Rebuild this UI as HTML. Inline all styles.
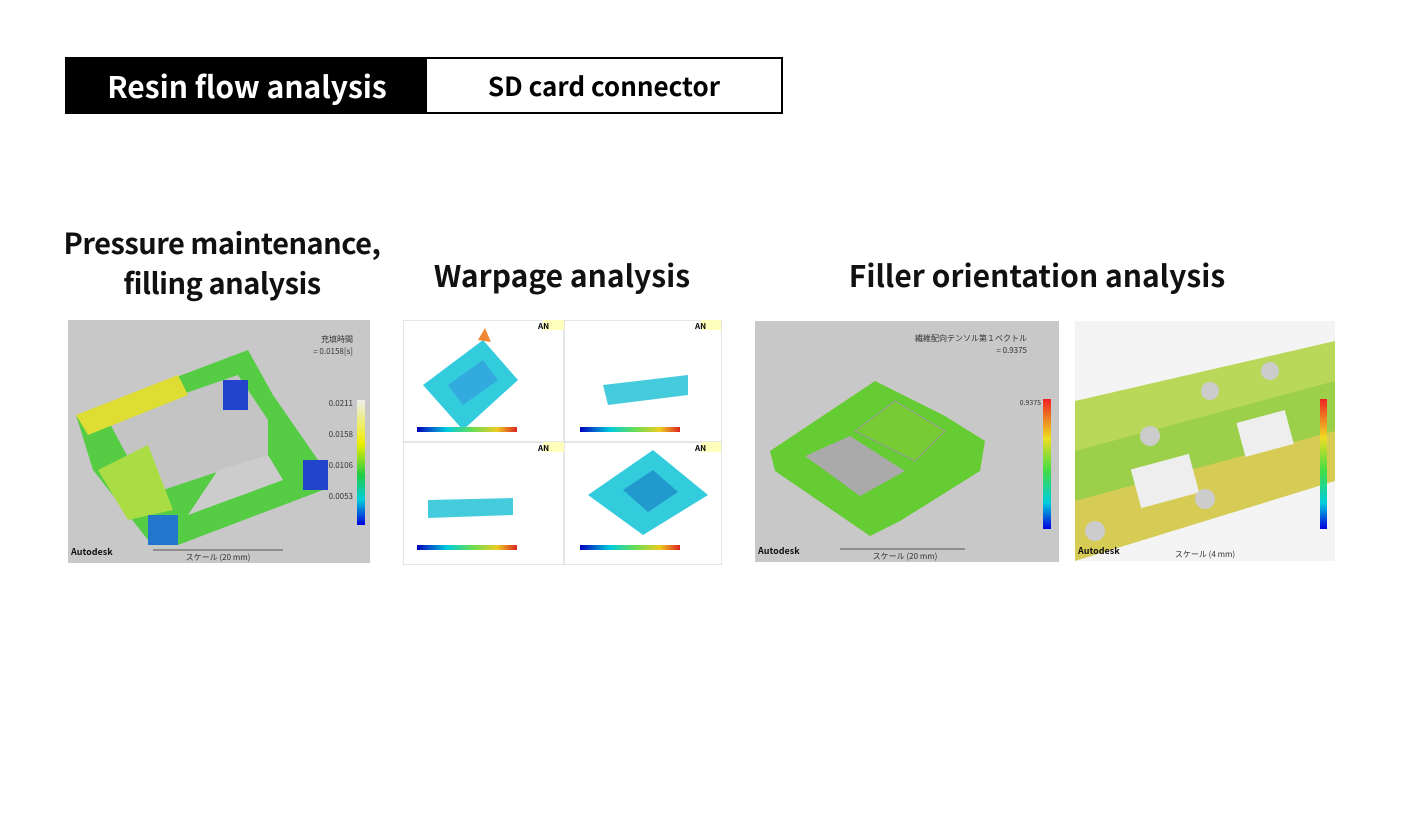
<!DOCTYPE html>
<html><head><meta charset="utf-8"><style>
body{margin:0;width:1401px;height:822px;background:#fff;position:relative;overflow:hidden;font-family:"Noto Sans CJK JP","Liberation Sans",sans-serif}
.a{position:absolute}
.t{position:absolute;font-weight:bold;color:#111;text-align:center;white-space:nowrap;letter-spacing:-0.5px}
</style></head><body>
<div class="a" style="left:65px;top:57px;width:360px;height:57px;background:#000;color:#fff;font-weight:bold;font-size:30px;line-height:57px;text-align:center;padding-left:4px;box-sizing:border-box">Resin flow analysis</div>
<div class="a" style="left:425px;top:57px;width:358px;height:57px;border:2px solid #000;box-sizing:border-box;font-weight:bold;font-size:26px;line-height:53px;text-align:center">SD card connector</div>

<div class="t" style="left:40px;width:364px;top:222px;font-size:29px;line-height:40px">Pressure maintenance,<br>filling analysis</div>
<div class="t" style="left:400px;width:324px;top:254px;font-size:30px;line-height:40px;letter-spacing:0">Warpage analysis</div>
<div class="t" style="left:780px;width:514px;top:254px;font-size:30px;line-height:40px;letter-spacing:0">Filler orientation analysis</div>

<!-- image 1 -->
<svg class="a" style="left:68px;top:320px" width="302" height="243" viewBox="0 0 302 243">
<defs><linearGradient id="g1" x1="0" y1="0" x2="0" y2="1"><stop offset="0" stop-color="#eee"/><stop offset=".35" stop-color="#ee0"/><stop offset=".6" stop-color="#2c4"/><stop offset=".8" stop-color="#0cd"/><stop offset="1" stop-color="#00d"/></linearGradient></defs>
<rect width="302" height="243" fill="#c8c8c8"/>
<polygon points="8,95 180,30 205,75 250,140 255,170 110,225 80,220 25,150" fill="#5c4"/>
<polygon points="40,100 170,55 200,100 200,135 80,175" fill="#c4c4c4"/>
<polygon points="150,150 200,135 215,160 120,195" fill="#ccc"/>
<polygon points="8,95 110,55 120,75 20,115" fill="#dd3"/>
<polygon points="30,150 80,125 105,190 60,200" fill="#ad4"/>
<rect x="155" y="60" width="25" height="30" fill="#24c"/>
<rect x="80" y="195" width="30" height="30" fill="#27c"/>
<rect x="235" y="140" width="25" height="30" fill="#24c"/>
<text x="285" y="22" font-size="8" text-anchor="end" fill="#333">充填時間</text>
<text x="285" y="34" font-size="8" text-anchor="end" fill="#333">= 0.0158[s]</text>
<rect x="289" y="80" width="8" height="125" fill="url(#g1)"/>
<text x="285" y="86" font-size="8" text-anchor="end" fill="#333">0.0211</text>
<text x="285" y="117" font-size="8" text-anchor="end" fill="#333">0.0158</text>
<text x="285" y="148" font-size="8" text-anchor="end" fill="#333">0.0106</text>
<text x="285" y="179" font-size="8" text-anchor="end" fill="#333">0.0053</text>
<text x="3" y="235" font-size="9" font-weight="bold" fill="#111">Autodesk</text>
<line x1="85" y1="230" x2="215" y2="230" stroke="#555"/>
<text x="150" y="240" font-size="8" text-anchor="middle" fill="#333">スケール (20 mm)</text>
</svg>

<!-- image 2 -->
<svg class="a" style="left:403px;top:320px" width="319" height="245" viewBox="0 0 319 245">
<defs><linearGradient id="g2" x1="0" x2="1"><stop offset="0" stop-color="#00b"/><stop offset=".3" stop-color="#0cd"/><stop offset=".55" stop-color="#6d5"/><stop offset=".8" stop-color="#ec2"/><stop offset="1" stop-color="#d22"/></linearGradient></defs>
<rect width="319" height="245" fill="#fff" stroke="#ccc"/>
<line x1="161" y1="0" x2="161" y2="245" stroke="#ccc"/><line x1="0" y1="122" x2="319" y2="122" stroke="#ccc"/>
<polygon points="20,65 80,20 115,60 60,110" fill="#3cd"/>
<polygon points="45,65 80,40 95,60 60,85" fill="#3ad"/>
<polygon points="75,20 82,8 88,22" fill="#e83"/>
<polygon points="200,65 285,55 285,75 205,85" fill="#4cd"/>
<polygon points="25,180 110,178 110,195 25,198" fill="#4cd"/>
<polygon points="185,175 250,130 305,175 240,215" fill="#3cd"/>
<polygon points="220,170 250,150 275,172 245,192" fill="#29c"/>
<rect x="14" y="107" width="100" height="5" fill="url(#g2)"/>
<rect x="177" y="107" width="100" height="5" fill="url(#g2)"/>
<rect x="14" y="225" width="100" height="5" fill="url(#g2)"/>
<rect x="177" y="225" width="100" height="5" fill="url(#g2)"/>
<rect x="140" y="0" width="21" height="10" fill="#ffb"/><rect x="298" y="0" width="20" height="10" fill="#ffb"/>
<rect x="140" y="122" width="21" height="10" fill="#ffb"/><rect x="298" y="122" width="20" height="10" fill="#ffb"/>
<text x="135" y="9" font-size="8" font-weight="bold">AN</text><text x="292" y="9" font-size="8" font-weight="bold">AN</text>
<text x="135" y="131" font-size="8" font-weight="bold">AN</text><text x="292" y="131" font-size="8" font-weight="bold">AN</text>
</svg>

<!-- image 3 -->
<svg class="a" style="left:755px;top:321px" width="304" height="241" viewBox="0 0 304 241">
<defs><linearGradient id="g3" x1="0" y1="0" x2="0" y2="1"><stop offset="0" stop-color="#e22"/><stop offset=".3" stop-color="#ed2"/><stop offset=".55" stop-color="#4d4"/><stop offset=".8" stop-color="#0cd"/><stop offset="1" stop-color="#00d"/></linearGradient></defs>
<rect width="304" height="241" fill="#c8c8c8"/>
<polygon points="15,130 120,60 190,95 230,120 225,150 145,200 115,215 20,150" fill="#6c3"/>
<polygon points="50,135 95,115 150,150 105,175" fill="#aaa"/>
<polygon points="100,110 140,80 190,110 160,140" fill="#7c3" stroke="#999"/>
<text x="272" y="20" font-size="8" text-anchor="end" fill="#333">繊維配向テンソル第１ベクトル</text>
<text x="272" y="32" font-size="8" text-anchor="end" fill="#333">= 0.9375</text>
<rect x="288" y="78" width="8" height="130" fill="url(#g3)"/>
<text x="286" y="84" font-size="7" text-anchor="end" fill="#333">0.9375</text>
<text x="3" y="233" font-size="9" font-weight="bold" fill="#111">Autodesk</text>
<line x1="85" y1="228" x2="210" y2="228" stroke="#555"/>
<text x="150" y="238" font-size="8" text-anchor="middle" fill="#333">スケール (20 mm)</text>
</svg>

<!-- image 4 -->
<svg class="a" style="left:1075px;top:321px" width="260" height="240" viewBox="0 0 260 240">
<rect width="260" height="240" fill="#f4f4f4"/>
<polygon points="0,80 260,20 260,150 0,235" fill="#b9d85a"/>
<polygon points="0,130 260,60 260,110 0,190" fill="#9ccf4a"/>
<polygon points="0,180 260,110 260,160 0,240" fill="#d6cc55"/>
<rect x="60" y="140" width="60" height="40" fill="#eee" transform="rotate(-15 90 160)"/>
<rect x="165" y="95" width="50" height="35" fill="#eee" transform="rotate(-15 190 112)"/>
<circle cx="75" cy="115" r="10" fill="#ccc"/><circle cx="130" cy="178" r="10" fill="#ccc"/>
<circle cx="135" cy="70" r="9" fill="#ccc"/><circle cx="195" cy="50" r="9" fill="#ccc"/><circle cx="20" cy="210" r="10" fill="#ccc"/>
<rect x="245" y="78" width="7" height="130" fill="url(#g3)"/>
<text x="3" y="233" font-size="9" font-weight="bold" fill="#111">Autodesk</text>
<text x="130" y="236" font-size="8" text-anchor="middle" fill="#333">スケール (4 mm)</text>
</svg>
</body></html>
